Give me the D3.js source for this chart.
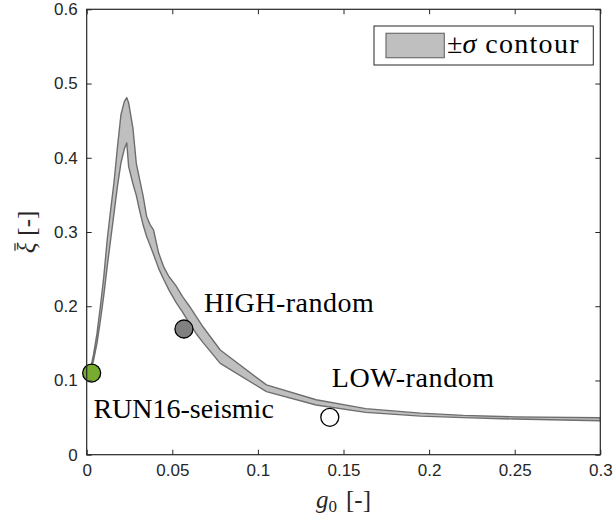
<!DOCTYPE html>
<html>
<head>
<meta charset="utf-8">
<script src="https://cdn.jsdelivr.net/npm/d3@7"></script>
<style>
  html, body { margin: 0; padding: 0; background: #ffffff; }
  svg { display: block; }
</style>
</head>
<body>
<div id="chart"></div>
<script>
// ---------------- data ----------------
const g0 = [0.002, 0.004, 0.006, 0.008, 0.010, 0.012, 0.014, 0.016, 0.018, 0.020,
            0.022, 0.0234, 0.0245, 0.027, 0.029, 0.031, 0.033, 0.035, 0.037, 0.039,
            0.042, 0.045, 0.048, 0.052, 0.056, 0.060, 0.064, 0.068, 0.078, 0.105,
            0.134, 0.163, 0.195, 0.22, 0.25, 0.30];
const xiUpper = [0.113, 0.135, 0.163, 0.200, 0.240, 0.290, 0.330, 0.368, 0.415, 0.458,
                 0.476, 0.481, 0.474, 0.440, 0.392, 0.370, 0.348, 0.321, 0.310, 0.303,
                 0.272, 0.253, 0.240, 0.228, 0.213, 0.200, 0.186, 0.172, 0.141, 0.094,
                 0.074, 0.062, 0.056, 0.053, 0.051, 0.0498];
const xiLower = [0.109, 0.127, 0.150, 0.181, 0.215, 0.254, 0.290, 0.326, 0.362, 0.393,
                 0.412, 0.420, 0.388, 0.365, 0.349, 0.328, 0.309, 0.294, 0.282, 0.270,
                 0.251, 0.236, 0.222, 0.206, 0.192, 0.177, 0.163, 0.151, 0.123, 0.085,
                 0.067, 0.057, 0.052, 0.050, 0.048, 0.0458];

const caseNames = ["RUN16-seismic", "HIGH-random", "LOW-random"];
const caseG0    = [0.0029, 0.0568, 0.1420];
const caseXi    = [0.1100, 0.1693, 0.0504];

const xTicks = [0, 0.05, 0.1, 0.15, 0.2, 0.25, 0.3];
const yTicks = [0, 0.1, 0.2, 0.3, 0.4, 0.5, 0.6];
const xTickLabels = ["0", "0.05", "0.1", "0.15", "0.2", "0.25", "0.3"];
const yTickLabels = ["0", "0.1", "0.2", "0.3", "0.4", "0.5", "0.6"];

// ---------------- layout & style ----------------
const W = 616, H = 523;
const L = 86.7, R = 600.3, T = 9.3, B = 454.7;
const axisColor = "#262626";
const bandFill = "#bfbfbf";
const bandEdge = "#6e6e6e";
const caseFill = ["#77ac30", "#808080", "#ffffff"];
// annotation anchors (data coords, left/baseline) and letter spacing
const annoPos = [[0.0039, 0.049], [0.0685, 0.1926], [0.1431, 0.0916]];
const annoSpacing = [0, 0.5, 0.6];
const serif = "'Liberation Serif', 'Times New Roman', serif";
const sans = "'Liberation Sans', Arial, Helvetica, sans-serif";

const x = d3.scaleLinear().domain([0, 0.3]).range([L, R]);
const y = d3.scaleLinear().domain([0, 0.6]).range([B, T]);

const svg = d3.select("#chart").append("svg")
  .attr("width", W).attr("height", H)
  .attr("viewBox", `0 0 ${W} ${H}`);

svg.append("rect").attr("width", W).attr("height", H).attr("fill", "#fff");

svg.append("clipPath").attr("id", "plotclip")
  .append("rect").attr("x", L).attr("y", T).attr("width", R - L).attr("height", B - T);

// band
const idx = d3.range(g0.length);
const area = d3.area()
  .x(i => x(g0[i]))
  .y0(i => y(xiLower[i]))
  .y1(i => y(xiUpper[i]));

svg.append("g").attr("clip-path", "url(#plotclip)")
  .append("path")
  .datum(idx)
  .attr("d", area)
  .attr("fill", bandFill)
  .attr("stroke", bandEdge)
  .attr("stroke-width", 1.4)
  .attr("stroke-linejoin", "round");

// markers
svg.append("g").selectAll("circle")
  .data(caseNames.map((n, i) => i))
  .join("circle")
  .attr("cx", i => x(caseG0[i]))
  .attr("cy", i => y(caseXi[i]))
  .attr("r", 9)
  .attr("fill", i => caseFill[i])
  .attr("stroke", "#000")
  .attr("stroke-width", 1.3);

// annotations
svg.append("g").selectAll("text")
  .data(caseNames.map((n, i) => i))
  .join("text")
  .attr("x", i => x(annoPos[i][0]))
  .attr("y", i => y(annoPos[i][1]))
  .attr("font-family", serif)
  .attr("font-size", 28)
  .attr("letter-spacing", i => annoSpacing[i])
  .attr("fill", "#000")
  .text(i => caseNames[i]);

// axes
const tick = 5;
const gx = svg.append("g").attr("transform", `translate(0,${B})`)
  .call(d3.axisBottom(x).tickValues(xTicks).tickSizeInner(-tick).tickSizeOuter(0)
        .tickPadding(9).tickFormat((d, i) => xTickLabels[i]));
const gxt = svg.append("g").attr("transform", `translate(0,${T})`)
  .call(d3.axisTop(x).tickValues(xTicks).tickSizeInner(-tick).tickSizeOuter(0)
        .tickFormat(() => ""));
const gy = svg.append("g").attr("transform", `translate(${L},0)`)
  .call(d3.axisLeft(y).tickValues(yTicks).tickSizeInner(-tick).tickSizeOuter(0)
        .tickPadding(9).tickFormat((d, i) => yTickLabels[i]));
const gyr = svg.append("g").attr("transform", `translate(${R},0)`)
  .call(d3.axisRight(y).tickValues(yTicks).tickSizeInner(-tick).tickSizeOuter(0)
        .tickFormat(() => ""));

[gx, gxt, gy, gyr].forEach(g => {
  g.select(".domain").remove();
  g.selectAll(".tick line").attr("stroke", axisColor).attr("stroke-width", 1);
  g.selectAll(".tick text").attr("fill", axisColor)
    .attr("font-family", sans).attr("font-size", 17);
});

svg.append("rect")
  .attr("x", L).attr("y", T).attr("width", R - L).attr("height", B - T)
  .attr("fill", "none").attr("stroke", axisColor).attr("stroke-width", 1.2);

// axis labels
const xl = svg.append("text")
  .attr("x", (L + R) / 2).attr("y", 508)
  .attr("text-anchor", "middle")
  .attr("font-family", serif).attr("font-size", 25).attr("fill", axisColor);
xl.append("tspan").attr("font-style", "italic").text("g");
xl.append("tspan").attr("font-size", 17).attr("dy", 4).text("0");
xl.append("tspan").attr("dy", -4).attr("dx", 9).text("[-]");

const ylSize = 25;
const ylg = svg.append("g")
  .attr("transform", `translate(35,${(T + B) / 2}) rotate(-90)`);
const yl = ylg.append("text")
  .attr("text-anchor", "middle")
  .attr("font-family", serif).attr("font-size", ylSize).attr("fill", axisColor);
yl.append("tspan").attr("font-style", "italic").text("\u03BE");
yl.append("tspan").attr("dx", 7).text("[-]");
// bar over xi
const ext = yl.node().getExtentOfChar(0);
ylg.append("line")
  .attr("x1", ext.x + ext.width * 0.25).attr("x2", ext.x + ext.width * 0.95)
  .attr("y1", -ylSize * 0.8).attr("y2", -ylSize * 0.8)
  .attr("stroke", axisColor).attr("stroke-width", 1.2);

// legend
const lg = svg.append("g");
lg.append("rect")
  .attr("x", 374).attr("y", 26).attr("width", 219.3).attr("height", 39)
  .attr("fill", "#fff").attr("stroke", axisColor).attr("stroke-width", 1);
lg.append("rect")
  .attr("x", 386).attr("y", 33.3).attr("width", 58.3).attr("height", 24.4)
  .attr("fill", bandFill).attr("stroke", bandEdge).attr("stroke-width", 1.2);
const lt = lg.append("text")
  .attr("x", 447).attr("y", 53)
  .attr("font-family", serif).attr("font-size", 28).attr("fill", "#000");
lt.append("tspan").text("\u00B1");
lt.append("tspan").attr("font-style", "italic").text("\u03C3");
lt.append("tspan").attr("dx", 9).attr("letter-spacing", 1.3).text("contour");
</script>
</body>
</html>
